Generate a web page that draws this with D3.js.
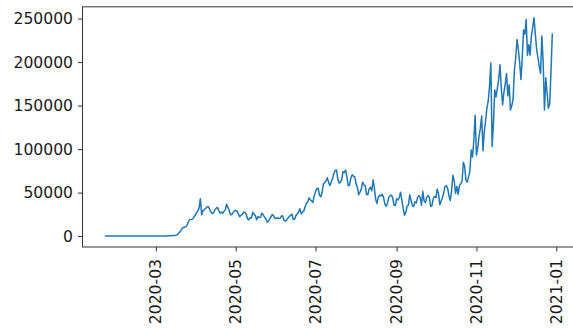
<!DOCTYPE html>
<html>
<head>
<meta charset="utf-8">
<script src="https://cdn.jsdelivr.net/npm/d3@7"></script>
<style>
  html, body { margin: 0; padding: 0; background: #fff; }
  svg { display: block; }
  .tick text { font-family: "DejaVu Sans", sans-serif; font-size: 15.6px; fill: #1a1a1a; }
</style>
</head>
<body>
<svg id="chart" width="573" height="328"></svg>
<script>
// Daily new cases, 2020-01-22 through 2020-12-29, one array per month.
const startDate = "2020-01-22";
const jan = [1, 0, 1, 0, 3, 0, 0, 0, 0, 2];
const feb = [1, 0, 0, 0, 1, 0, 0, 0, 0, 0, 1, 0, 1, 0, 0, 0, 0, 0, 0, 0, 2, 0, 0, 0, 1, 3, 4, 5, 8];
const mar = [8, 23, 20, 31, 68, 45, 140, 116, 65, 377, 285, 518, 458, 789, 632, 850, 1240, 2600, 4400, 5800,
             8900, 9800, 10400, 10800, 12900, 17000, 18900, 19200, 19500, 21500, 24200];
const apr = [26500, 28900, 32100, 43000, 24500, 29500, 30500, 31700, 33500, 33900, 31000, 28000, 25800, 26500, 29800,
             31800, 33000, 29500, 26500, 27600, 26200, 28400, 30100, 36500, 33300, 29400, 24600, 24800, 26900, 29000];
const may = [29500, 29000, 25500, 22400, 23800, 24900, 27400, 27300, 25500, 19900, 18600, 21100, 20800, 27300, 25300,
             23300, 18800, 22400, 21400, 21600, 26400, 24500, 21700, 20100, 16000, 17000, 19800, 22200, 24900, 23300, 20100];
const jun = [20500, 21200, 20100, 20500, 23300, 22900, 18000, 17200, 18600, 20900, 22600, 23800, 25200, 19000, 19300,
             23400, 25400, 27700, 31500, 25500, 27600, 28600, 33400, 37400, 39100, 43800, 41800, 40500, 38700, 46500];
const jul = [51000, 54500, 55000, 47500, 45000, 50000, 60000, 61500, 63500, 67000, 62000, 58000, 62500, 66000, 72000,
             75500, 76000, 66000, 61000, 62000, 64500, 74000, 73000, 76000, 68000, 58000, 58500, 66500, 70500, 69000, 68000];
const aug = [60000, 56000, 47500, 50500, 54000, 62000, 59000, 58000, 48000, 47500, 54500, 56000, 52000, 64500, 55000,
             42000, 37500, 45000, 47000, 46000, 48000, 44500, 37000, 34000, 38000, 44500, 46500, 47000, 44000, 35500, 35000];
const sep = [43000, 41500, 44000, 50500, 41000, 31500, 24000, 27000, 34500, 35500, 47500, 41000, 35000, 34000, 39500,
             38000, 44500, 46500, 44500, 35500, 51500, 40500, 38500, 44500, 46500, 45000, 34000, 35000, 43000, 45500];
const oct = [44000, 54000, 49000, 36000, 40000, 44000, 50000, 57000, 58000, 55000, 46000, 41000, 52000, 70000, 64000,
             49000, 57000, 48000, 58000, 60000, 63000, 85000, 80000, 64000, 62000, 68000, 75000, 99000, 91000, 110000, 139000];
const nov = [93000, 101000, 115000, 124000, 138000, 98000, 120000, 133000, 147000, 155000, 172000, 199000, 103000, 130000, 168000,
             160000, 170000, 180000, 197000, 170000, 151000, 165000, 175000, 187000, 161000, 174000, 145000, 150000, 157000, 190000];
const dec = [205000, 226000, 215000, 200000, 180000, 205000, 237000, 232000, 249000, 208000, 220000, 208000, 230000, 240000, 251000,
             232000, 215000, 205000, 195000, 187000, 230000, 200000, 145000, 182000, 165000, 147000, 152000, 190000, 233000];

const yTicks = [0, 50000, 100000, 150000, 200000, 250000];
const xTickLabels = ["2020-03", "2020-05", "2020-07", "2020-09", "2020-11", "2021-01"];

const cases = [].concat(jan, feb, mar, apr, may, jun, jul, aug, sep, oct, nov, dec);
const parse = d3.utcParse("%Y-%m-%d");
const t0 = parse(startDate);
const data = cases.map((v, i) => ({ date: d3.utcDay.offset(t0, i), value: v }));

const svg = d3.select("#chart");
const plot = { left: 82.5, right: 574.7, top: 6.8, bottom: 247 };

// Matplotlib-style 5% margins around the data extent
const xExt = d3.extent(data, d => d.date);
const xPad = (xExt[1] - xExt[0]) * 0.05;
const x = d3.scaleUtc()
  .domain([new Date(+xExt[0] - xPad), new Date(+xExt[1] + xPad)])
  .range([plot.left, plot.right]);

const yExt = d3.extent(data, d => d.value);
const yPad = (yExt[1] - yExt[0]) * 0.05;
const y = d3.scaleLinear()
  .domain([yExt[0] - yPad, yExt[1] + yPad])
  .range([plot.bottom, plot.top]);

// Line
svg.append("path")
  .datum(data)
  .attr("fill", "none")
  .attr("stroke", "#1f77b4")
  .attr("stroke-width", 1.5)
  .attr("stroke-linejoin", "round")
  .attr("d", d3.line().x(d => x(d.date)).y(d => y(d.value)));

// Spines
const spine = svg.append("g").attr("stroke", "#333").attr("stroke-width", 1).attr("fill", "none");
spine.append("rect")
  .attr("x", plot.left).attr("y", plot.top)
  .attr("width", plot.right - plot.left).attr("height", plot.bottom - plot.top);

// Y axis
const yAxis = svg.append("g")
  .attr("transform", `translate(${plot.left},0)`)
  .call(d3.axisLeft(y).tickValues(yTicks).tickFormat(d3.format("d")).tickSize(4.5).tickPadding(5));
yAxis.select(".domain").remove();
yAxis.selectAll(".tick line").attr("stroke", "#333");

// X axis
const xTicks = xTickLabels.map(s => parse(s + "-01"));
const xAxis = svg.append("g")
  .attr("transform", `translate(0,${plot.bottom})`)
  .call(d3.axisBottom(x).tickValues(xTicks).tickFormat(d3.utcFormat("%Y-%m")).tickSize(4.5).tickPadding(0));
xAxis.select(".domain").remove();
xAxis.selectAll(".tick line").attr("stroke", "#333");
xAxis.selectAll(".tick text")
  .attr("text-anchor", "end")
  .attr("transform", "rotate(-90)")
  .attr("x", -12)
  .attr("y", 0)
  .attr("dy", "0.32em");
</script>
</body>
</html>
